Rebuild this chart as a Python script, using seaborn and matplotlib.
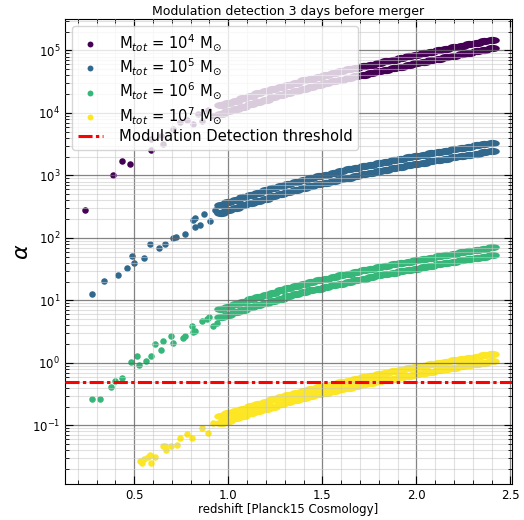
import numpy as np
import matplotlib
matplotlib.use('Agg')
import matplotlib.pyplot as plt
import seaborn as sns
from matplotlib.ticker import MultipleLocator, LogLocator

# total masses (log10 of M_tot / M_sun)
mass_exp = ['4', '5', '6', '7']
threshold = 0.5

# redshift grid where the populations form dense double bands
z_band = [0.96, 1.00, 1.04, 1.08, 1.12, 1.16, 1.20, 1.24, 1.28, 1.32, 1.36, 1.40,
          1.44, 1.48, 1.52, 1.56, 1.60, 1.64, 1.68, 1.72, 1.76, 1.80, 1.84, 1.88,
          1.92, 1.96, 2.00, 2.04, 2.08, 2.12, 2.16, 2.20, 2.24, 2.28, 2.32, 2.36, 2.40]

# M_tot = 1e4
z_sparse_4 = [0.24, 0.387, 0.433, 0.477, 0.588, 0.59, 0.645, 0.653, 0.707, 0.742,
              0.778, 0.813, 0.84, 0.858, 0.893, 0.92]
a_sparse_4 = [278, 1015, 1720, 1520, 2560, 3850, 4250, 3200, 5560, 7100,
              7800, 6700, 9700, 7500, 11000, 9100]
a_upper_4 = [13180, 14450, 15780, 17220, 18790, 20510, 22390, 24210, 26180, 28310,
             30620, 33110, 35480, 38020, 40740, 43650, 46770, 49660, 52720, 55980,
             59430, 63100, 66990, 71120, 75510, 80170, 85110, 89950, 95060, 100500,
             106200, 112200, 118600, 125300, 132400, 140000, 147900]
a_lower_4 = [9660, 10590, 11570, 12620, 13770, 15030, 16410, 17750, 19190, 20750,
             22440, 24270, 26010, 27870, 29860, 32000, 34280, 36400, 38640, 41030,
             43560, 46250, 49100, 52130, 55350, 58760, 62390, 65930, 69680, 73670,
             77840, 82240, 86930, 91850, 97050, 102600, 108400]

# M_tot = 1e5
z_sparse_5 = [0.275, 0.339, 0.412, 0.46, 0.486, 0.50, 0.554, 0.582, 0.632, 0.666,
              0.707, 0.721, 0.769, 0.813, 0.822, 0.822, 0.849, 0.87, 0.902, 0.929, 0.938]
a_sparse_5 = [12.5, 20.7, 25.5, 33.5, 51.4, 40, 48.5, 79, 68, 79,
              98, 105, 115, 195, 205, 147, 160, 240, 187, 282, 256]
a_upper_5 = [339, 372, 407, 447, 490, 531, 575, 624, 676, 733, 794, 851,
             912, 977, 1035, 1109, 1175, 1250, 1327, 1413, 1496, 1585, 1667, 1758,
             1849, 1950, 2042, 2148, 2259, 2377, 2500, 2630, 2754, 2884, 3020, 3162, 3311]
a_lower_5 = [251, 276, 302, 331, 363, 393, 426, 462, 501, 543, 588, 631,
             676, 724, 767, 822, 871, 926, 983, 1047, 1109, 1175, 1235, 1303,
             1370, 1445, 1513, 1592, 1674, 1761, 1853, 1949, 2041, 2137, 2238, 2343, 2453]

# M_tot = 1e6
z_sparse_6 = [0.277, 0.319, 0.378, 0.399, 0.437, 0.481, 0.517, 0.525, 0.565, 0.591,
              0.613, 0.645, 0.653, 0.694, 0.707, 0.76, 0.769, 0.805, 0.813, 0.823,
              0.86, 0.885, 0.90, 0.92, 0.94]
a_sparse_6 = [0.267, 0.267, 0.41, 0.51, 0.58, 1.05, 1.28, 0.93, 1.09, 1.28,
              1.97, 1.63, 2.2, 2.67, 2.1, 2.5, 2.67, 3.86, 3.1, 3.2,
              4.6, 4.95, 5.4, 3.87, 4.4]
a_upper_6 = [7.25, 7.95, 8.70, 9.56, 10.48, 11.35, 12.29, 13.34, 14.45, 15.67, 16.98, 18.19,
             19.50, 20.89, 22.13, 23.71, 25.12, 26.73, 28.37, 30.21, 31.98, 33.89, 35.64, 37.59,
             39.53, 41.69, 43.66, 45.92, 48.30, 50.82, 53.45, 56.23, 58.88, 61.66, 64.57, 67.60, 70.79]
a_lower_6 = [5.37, 5.90, 6.46, 7.08, 7.76, 8.40, 9.11, 9.88, 10.71, 11.61, 12.57, 13.49,
             14.45, 15.48, 16.40, 17.57, 18.62, 19.80, 21.02, 22.38, 23.71, 25.12, 26.40, 27.86,
             29.29, 30.89, 32.35, 34.04, 35.79, 37.65, 39.62, 41.67, 43.64, 45.69, 47.85, 50.09, 52.45]

# M_tot = 1e7
z_sparse_7 = [0.529, 0.54, 0.55, 0.573, 0.582, 0.591, 0.609, 0.653, 0.662, 0.671,
              0.698, 0.725, 0.742, 0.778, 0.805, 0.858, 0.893, 0.92]
a_sparse_7 = [0.027, 0.025, 0.029, 0.0316, 0.034, 0.025, 0.031, 0.046, 0.046, 0.041,
              0.046, 0.049, 0.0625, 0.073, 0.0625, 0.0905, 0.075, 0.109]
a_upper_7 = [0.141, 0.155, 0.170, 0.186, 0.204, 0.221, 0.240, 0.260, 0.282, 0.306, 0.331, 0.355,
             0.380, 0.407, 0.432, 0.462, 0.490, 0.521, 0.553, 0.589, 0.624, 0.661, 0.695, 0.733,
             0.771, 0.813, 0.851, 0.895, 0.942, 0.991, 1.042, 1.096, 1.148, 1.202, 1.259, 1.318, 1.380]
a_lower_7 = [0.108, 0.119, 0.130, 0.143, 0.156, 0.170, 0.184, 0.199, 0.216, 0.235, 0.254, 0.272,
             0.291, 0.312, 0.331, 0.354, 0.376, 0.400, 0.424, 0.452, 0.479, 0.507, 0.533, 0.562,
             0.591, 0.624, 0.653, 0.686, 0.723, 0.760, 0.799, 0.841, 0.881, 0.922, 0.966, 1.011, 1.058]

populations = [
    (z_sparse_4, a_sparse_4, a_upper_4, a_lower_4),
    (z_sparse_5, a_sparse_5, a_upper_5, a_lower_5),
    (z_sparse_6, a_sparse_6, a_upper_6, a_lower_6),
    (z_sparse_7, a_sparse_7, a_upper_7, a_lower_7),
]

colors = plt.cm.viridis(np.linspace(0, 1, 4))

# flattened ellipse so that neighbouring band points merge into a smooth strip
t = np.linspace(0, 2 * np.pi, 40)
band_marker = list(zip(2.0 * np.cos(t), np.sin(t)))

fig, ax = plt.subplots(figsize=(5.24, 5.2), dpi=100)
fig.subplots_adjust(left=0.124, right=0.977, bottom=0.069, top=0.964)

for i, (zs, as_, au, al) in enumerate(populations):
    lab = r'M$_{tot}$ = 10$^{%s}$ M$_{\odot}$' % mass_exp[i]
    sns.scatterplot(x=zs, y=as_, color=colors[i], s=22, linewidth=0, label=lab, ax=ax)
    sns.scatterplot(x=z_band, y=au, color=colors[i], s=110, marker=band_marker,
                    linewidth=0, ax=ax)
    sns.scatterplot(x=z_band, y=al, color=colors[i], s=110, marker=band_marker,
                    linewidth=0, ax=ax)

ax.axhline(threshold, color='red', lw=2.2, linestyle=(0, (4.6, 1.1, 1.1, 1.1)),
           label='Modulation Detection threshold', zorder=3)

ax.set_yscale('log')
ax.xaxis.set_major_locator(MultipleLocator(0.5))
ax.xaxis.set_minor_locator(MultipleLocator(0.1))
ax.yaxis.set_major_locator(LogLocator(base=10, numticks=20))
ax.yaxis.set_minor_locator(LogLocator(base=10, subs=np.arange(2, 10), numticks=20))

ax.set_axisbelow(False)
ax.grid(which='major', color='0.4', lw=0.9, alpha=0.8)
ax.grid(which='minor', color='0.78', lw=0.8, alpha=0.55)
ax.tick_params(which='both', direction='in', top=True, right=True, labelsize=8.5)
ax.tick_params(which='major', length=6)
ax.tick_params(which='minor', length=3)

ax.set_title('Modulation detection 3 days before merger', fontsize=9, pad=3)
ax.set_xlabel('redshift [Planck15 Cosmology]', fontsize=8.5, labelpad=1)
ax.set_ylabel(r'$\alpha$', fontsize=16, labelpad=0)

ax.legend(loc='upper left', fontsize=10.6, markerscale=0.9, framealpha=0.8,
          handlelength=1.65, handletextpad=1.1, labelspacing=0.25, borderaxespad=0.5)

fig.savefig('out.png', dpi=100)
